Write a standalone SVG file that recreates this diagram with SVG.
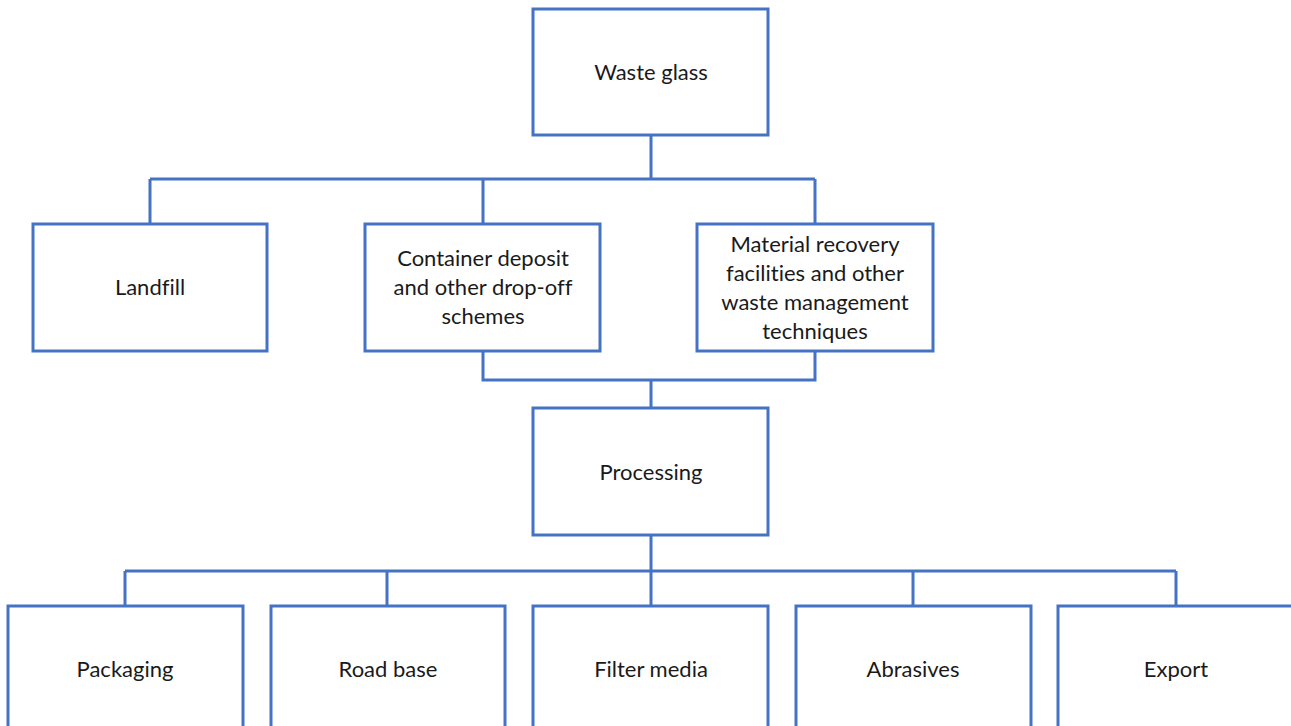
<svg xmlns="http://www.w3.org/2000/svg" width="1291" height="726" viewBox="0 0 1291 726">
<style>
.box{fill:#fff;stroke:#4472C4;stroke-width:3}
.conn{fill:none;stroke:#4472C4;stroke-width:3}
text{font-family:Lato,"Open Sans","Liberation Sans",sans-serif;font-size:22px;fill:#1a1a1a;text-anchor:middle;dominant-baseline:central;font-variant-ligatures:none}
</style>
<rect width="1291" height="726" fill="#fff"/>
<g id="connectors">
<path class="conn" d="M651,135V179M150,179H815M150,179V224M483,179V224M815,179V224"/>
<path class="conn" d="M483,351V380H815V351M651,380V408"/>
<path class="conn" d="M651,535V571M125,571H1176M125,571V606M387,571V606M651,571V606M913,571V606M1176,571V606"/>
</g>
<g id="waste-glass"><rect class="box" x="533" y="9" width="235" height="126"/><text x="651" y="71">Waste glass</text></g>
<g id="landfill"><rect class="box" x="33" y="224" width="234" height="127"/><text x="150" y="286">Landfill</text></g>
<g id="container-deposit"><rect class="box" x="365" y="224" width="235" height="127"/><text x="483" y="257">Container deposit</text><text x="483" y="286">and other drop-off</text><text x="483" y="315">schemes</text></g>
<g id="material-recovery"><rect class="box" x="697" y="224" width="236" height="127"/><text x="815" y="243">Material recovery</text><text x="815" y="272">facilities and other</text><text x="815" y="301">waste management</text><text x="815" y="330">techniques</text></g>
<g id="processing"><rect class="box" x="533" y="408" width="235" height="127"/><text x="651" y="471">Processing</text></g>
<g id="packaging"><rect class="box" x="8" y="606" width="235" height="127"/><text x="125" y="668">Packaging</text></g>
<g id="road-base"><rect class="box" x="271" y="606" width="234" height="127"/><text x="388" y="668">Road base</text></g>
<g id="filter-media"><rect class="box" x="533" y="606" width="235" height="127"/><text x="651" y="668">Filter media</text></g>
<g id="abrasives"><rect class="box" x="796" y="606" width="235" height="127"/><text x="913" y="668">Abrasives</text></g>
<g id="export"><rect class="box" x="1058" y="606" width="240" height="127"/><text x="1176" y="668">Export</text></g>
</svg>
